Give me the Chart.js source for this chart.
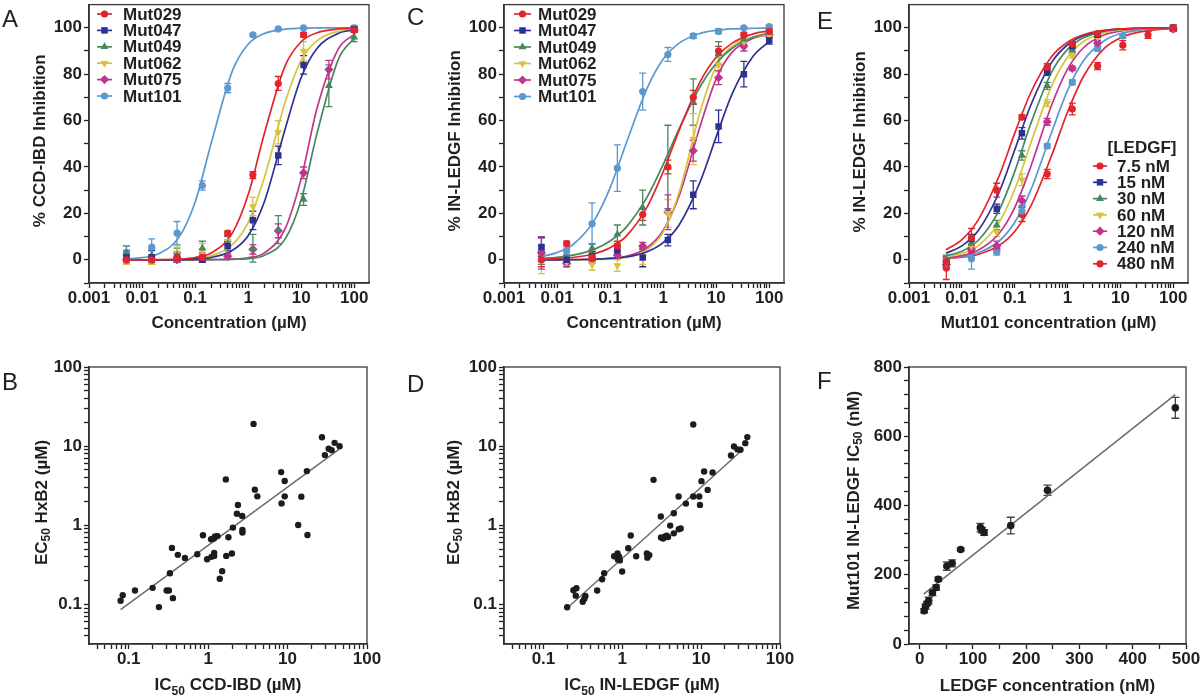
<!DOCTYPE html>
<html lang="en">
<head>
<meta charset="utf-8">
<title>Mut101 and LEDGF inhibition panels</title>
<script src="https://cdn.jsdelivr.net/npm/chart.js@4.4.1/dist/chart.umd.min.js"></script>
<style>
  html, body { margin: 0; padding: 0; background: #fff; }
  #fig { position: relative; width: 1200px; height: 697px; overflow: hidden; }
  .panel { position: absolute; }
  .letter { position: absolute; font: 24px 'Liberation Sans', Arial, sans-serif; line-height: 1; color: #231f20; }
</style>
</head>
<body>
<div id="fig">
  <div class="panel" style="left:0;top:0;width:400px;height:340px"><canvas id="panelA"></canvas></div>
  <div class="panel" style="left:400px;top:0;width:400px;height:340px"><canvas id="panelC"></canvas></div>
  <div class="panel" style="left:800px;top:0;width:400px;height:340px"><canvas id="panelE"></canvas></div>
  <div class="panel" style="left:0;top:340px;width:400px;height:357px"><canvas id="panelB"></canvas></div>
  <div class="panel" style="left:400px;top:340px;width:400px;height:357px"><canvas id="panelD"></canvas></div>
  <div class="panel" style="left:800px;top:340px;width:400px;height:357px"><canvas id="panelF"></canvas></div>
  <div class="letter" style="left:2px;top:7px">A</div>
  <div class="letter" style="left:407px;top:5px">C</div>
  <div class="letter" style="left:817px;top:9px">E</div>
  <div class="letter" style="left:2px;top:370px">B</div>
  <div class="letter" style="left:407px;top:372px">D</div>
  <div class="letter" style="left:817px;top:369px">F</div>
</div>
<script>
const FONT = "'Liberation Sans', Arial, Helvetica, sans-serif";
const INK = '#231f20';
Chart.defaults.font.family = FONT;
Chart.defaults.color = INK;

// ---------- shared axis values ----------
// tested concentrations (uM), 3-fold dilutions
const conc = [0.00508, 0.0152, 0.0457, 0.137, 0.412, 1.23, 3.70, 11.1, 33.3, 100];
const fitX = [0.005, 0.01, 0.02, 0.05, 0.1, 0.2, 0.5, 1, 2, 5, 10, 20, 50, 100];

const decades = [0.001, 0.01, 0.1, 1, 10, 100];
const decadeLabels = ['0.001', '0.01', '0.1', '1', '10', '100'];
const pctTicks = [0, 20, 40, 60, 80, 100];
const pctLabels = ['0', '20', '40', '60', '80', '100'];
const pctMinor = [-10, 10, 30, 50, 70, 90];

// ---------- panels A and C ----------
const mutNames = ['Mut029', 'Mut047', 'Mut049', 'Mut062', 'Mut075', 'Mut101'];
const mutColors = ['#e3242b', '#2e3192', '#46875f', '#d6c53c', '#c2338c', '#5b98d0'];
const mutShapes = ['circle', 'rect', 'triangle', 'triangle', 'rectRot', 'circle'];
const mutRotation = [0, 0, 0, 180, 0, 0];

// A: % CCD-IBD inhibition, rows follow mutNames
const aMean = [
  [0, 0, 1, 1, 11.5, 36.5, 76, 97, null, 99],
  [1, 1, 1, 0, 6, 17, 45, 84, null, 99.5],
  [3, 2, 2, 5, 7, 5, 13, 26, 75, 96],
  [0, 0, 3, 4, 8, 23, 55, 90, null, 100],
  [0, 0, 0, 1, 1.5, 4.5, 12.5, 37.5, 82, 99],
  [3, 5.5, 11.5, 32, 74, 97, 99.5, 100, null, 100]
];
const aSd = [
  [2, 2, 2, 2, 1, 1.5, 3, 1, 0, 1],
  [3, 3, 2, 1, 2, 4, 4, 4, 0, 1],
  [3, 3, 3, 3, 3, 6, 6, 2.5, 9, 2],
  [2, 2, 3, 3, 3, 4, 5, 4, 0, 1],
  [1, 1, 1, 1, 1, 2, 3, 2.5, 4, 1],
  [3, 3.5, 5, 2, 2, 0.5, 0.5, 0.5, 0, 0.5]
];
const aFit = [
  [0, 0, 0.1, 0.3, 1.0, 2.9, 11.4, 28, 54, 83.7, 94, 97.9, 99.5, 99.8],
  [0, 0, 0, 0.1, 0.4, 1.0, 4.0, 10.4, 24.7, 56.5, 78.6, 91.2, 97.6, 99.1],
  [0, 0, 0, 0, 0, 0.05, 0.2, 0.5, 1.9, 9, 25.8, 54.7, 86.3, 95.6],
  [0, 0, 0, 0.2, 0.6, 1.7, 6.4, 16, 35, 68, 86, 94.5, 98.5, 99.5],
  [0, 0, 0, 0, 0, 0.1, 0.25, 0.9, 2.9, 13.5, 35, 65.5, 90.8, 97.2],
  [0.4, 0.9, 2.5, 9.8, 24.8, 50, 81.2, 92.9, 97.5, 99.4, 99.8, 100, 100, 100]
];

// C: % IN-LEDGF inhibition, rows follow mutNames
const cMean = [
  [0, 7, 1, 6, 19.5, 40, 70, 90, 97, 98.5],
  [5.5, 0, 1.5, 4, 1, 8.5, 28, 57.5, 80, 94.5],
  [0, 0, 5, 11, 22.5, 40, 68, 89, 95, 98],
  [0, -1, -2, -2.5, 1, 20, 52, 84, 94, 96.5],
  [3, -1.5, 0, 2, 6, 20.5, 47, 78.5, 92, 97],
  [4, 4, 15.5, 39.5, 72.5, 88.5, 96.5, 98.5, 100, 100.5]
];
const cSd = [
  [3, 1, 1, 2, 2.5, 3, 3, 2, 1, 1],
  [4, 2, 2, 2, 4, 2.5, 6, 7, 5.5, 1.5],
  [2, 2, 2, 4, 7.5, 18, 10, 5, 2, 1],
  [6, 2, 2.5, 2.5, 3, 6, 11, 3, 2, 1],
  [7, 1.5, 1.5, 1.5, 1.5, 7.5, 4.5, 3, 2, 1],
  [2, 1, 9, 10, 8, 3, 1, 1, 0.5, 0.5]
];
const cFit = [
  [0.2, 0.5, 1.0, 2.6, 5.2, 10.1, 22.8, 37.9, 55.8, 76.8, 87.3, 93.4, 97.4, 98.7],
  [0, 0, 0.1, 0.25, 0.6, 1.2, 3.5, 7.4, 15, 33.7, 53, 71.5, 87.8, 94.1],
  [0.6, 1.1, 2.0, 4.5, 8.1, 14, 27.1, 41, 56.4, 74.7, 84.7, 91.2, 95.9, 97.8],
  [0, 0, 0, 0.1, 0.3, 1.0, 4.3, 11.9, 29, 63.9, 83.5, 92, 96, 97],
  [0, 0, 0, 0.2, 0.6, 1.5, 5.2, 12.6, 27.5, 57.7, 78, 89.5, 95.5, 97],
  [1.4, 3.1, 6.6, 16.9, 31, 50, 74, 86.4, 93.4, 97.6, 98.9, 99.5, 99.8, 99.9]
];

// ---------- panel E: Mut101 at several LEDGF concentrations ----------
const ledgfNames = ['7.5 nM', '15 nM', '30 nM', '60 nM', '120 nM', '240 nM', '480 nM'];
const ledgfColors = ['#e3242b', '#2e3192', '#46875f', '#d6c53c', '#c2338c', '#5b98d0', '#e3242b'];
const ledgfShapes = ['circle', 'rect', 'triangle', 'triangle', 'rectRot', 'circle', 'circle'];
const ledgfRotation = [0, 0, 0, 180, 0, 0, 0];
const eMean = [
  [-1, 9.5, 30, 61.5, 83, 93, 97.5, null, null, 100],
  [-1, 9, 22, 54.5, 81, 92, 97, null, null, 100],
  [0, 7, 15, 45, 75, 90.5, 97, null, null, 100],
  [-1, 6, 12, 34.5, 67.5, 88, 96, null, null, 100],
  [-2, 4.5, 6, 25.5, 59.5, 82.5, 93.5, null, null, 99.5],
  [-1, 0.5, 3.5, 21, 49, 76.5, 91, 96.5, null, 100],
  [-3.5, 4, 4.5, 19.5, 37, 65, 83.5, 92.5, 97, 99.5]
];
const eSd = [
  [2, 4, 3, 1, 1.5, 1, 1, 0, 0, 1],
  [2, 2, 2, 2.5, 1.5, 1, 1, 0, 0, 1],
  [2, 2, 2, 2, 1.5, 1, 1, 0, 0, 1],
  [2, 2, 2, 2.5, 1.5, 1, 1, 0, 0, 1],
  [2, 2, 2, 2, 1.5, 1, 1, 0, 0, 1],
  [2, 4.5, 1.5, 2, 1, 1, 1, 1, 0, 1],
  [5, 3, 1.5, 3, 2, 2.5, 1.5, 2, 1.5, 1]
];
const eFit = [
  [4.3, 8.7, 16.9, 35.8, 54.5, 71.9, 87.6, 93.8, 97, 98.9, 99.5, 99.8, 100, 100],
  [2.8, 6, 12.3, 28.8, 47.3, 66.5, 85.1, 92.7, 96.6, 98.8, 99.5, 99.8, 100, 100],
  [1.7, 3.7, 8.2, 21.1, 38, 58.5, 80.9, 90.7, 95.7, 98.5, 99.4, 99.7, 100, 100],
  [1.2, 2.7, 5.9, 15.9, 30.3, 50, 75, 87.3, 94.1, 97.9, 99.1, 99.6, 99.9, 100],
  [0.8, 1.8, 4.0, 11.2, 22.5, 40, 66.7, 82.2, 91.4, 97, 98.6, 99.4, 99.8, 99.9],
  [0.6, 1.3, 2.9, 8, 16.1, 29.9, 55, 73, 85.8, 94.5, 97.5, 98.8, 99.6, 99.8],
  [0.5, 1.1, 2.3, 6.1, 12.2, 23, 45, 63.7, 79, 91.2, 95.7, 97.9, 99.2, 99.6]
];

// ---------- panel B: EC50 HxB2 vs IC50 CCD-IBD (uM) ----------
const bIc50 = [0.079, 0.084, 0.12, 0.20, 0.24, 0.30, 0.32, 0.33, 0.35, 0.36, 0.415, 0.51, 0.73, 0.86, 0.97,
  1.09, 1.1, 1.18, 1.22, 1.31, 1.19, 1.19, 1.40, 1.50, 1.67, 1.69, 1.80, 1.99, 2.05, 2.30, 2.37, 2.68,
  2.70, 2.70, 3.73, 3.87, 4.16, 8.3, 8.4, 9.2, 9.2, 13.6, 14.9, 17.5, 17.8, 27.1, 29.5, 32.9, 35.9, 39.1, 45.2];
const bEc50 = [0.111, 0.131, 0.150, 0.162, 0.0925, 0.150, 0.150, 0.248, 0.518, 0.120, 0.423, 0.387, 0.43, 0.748, 0.372,
  0.667, 0.399, 0.68, 0.72, 0.73, 0.448, 0.41, 0.211, 0.263, 3.8, 0.41, 0.706, 0.44, 0.935, 1.40, 1.80, 1.31,
  0.873, 0.81, 19.1, 2.82, 2.32, 4.70, 1.89, 3.62, 2.32, 1.01, 2.30, 4.84, 0.755, 12.97, 7.7, 9.25, 8.9, 11.0, 10.0];
const bLineX = [0.079, 45.2];
const bLineY = [0.0857, 9.25];

// ---------- panel D: EC50 HxB2 vs IC50 IN-LEDGF (uM) ----------
const dIc50 = [0.20, 0.24, 0.262, 0.257, 0.315, 0.33, 0.34, 0.48, 0.555, 0.589, 0.789, 0.87, 0.88, 0.91, 0.93, 0.995,
  1.19, 1.28, 1.5, 2.05, 2.08, 2.2, 2.49, 3.08, 3.1, 3.3, 3.5, 3.65, 3.8, 4.05, 4.5, 4.5, 5.17, 5.2, 5.5, 6.4,
  7.94, 7.94, 9.46, 9.65, 10.1, 10.9, 12.1, 13.96, 23.9, 26.1, 29.0, 31.5, 36.3, 38.5];
const dEc50 = [0.092, 0.151, 0.160, 0.129, 0.108, 0.118, 0.128, 0.150, 0.208, 0.248, 0.406, 0.44, 0.37, 0.40, 0.36, 0.26,
  0.513, 0.741, 0.406, 0.44, 0.39, 0.42, 3.75, 1.29, 0.70, 0.68, 0.72, 0.74, 0.71, 0.99, 1.42, 0.79, 2.31, 0.89, 0.91, 1.88,
  18.8, 2.31, 2.31, 1.81, 3.61, 4.79, 2.80, 4.65, 7.63, 9.9, 9.1, 9.0, 10.9, 13.0];
const dLineX = [0.196, 33.5];
const dLineY = [0.088, 9.0];

// ---------- panel F: Mut101 IC50 vs LEDGF (nM) ----------
const fLedgf = [8.5, 11, 14, 17, 24, 31, 35, 51, 61, 77, 114, 117, 121, 171, 240, 480];
const fIc50 = [96, 108, 117, 125, 148, 163, 187, 225, 233, 273, 336, 329, 322, 342, 444, 682];
const fSd = [6, 8, 6, 10, 8, 8, 6, 12, 10, 4, 12, 8, 8, 24, 15, 30];
const fLineX = [7.5, 480];
const fLineY = [144, 720];
const fXTicks = [0, 100, 200, 300, 400, 500];
const fXLabels = ['0', '100', '200', '300', '400', '500'];
const fXMinor = [50, 150, 250, 350, 450];
const fYTicks = [0, 200, 400, 600, 800];
const fYLabels = ['0', '200', '400', '600', '800'];
const fYMinor = [40, 80, 120, 160, 240, 280, 320, 360, 440, 480, 520, 560, 640, 680, 720, 760];

const logLabelValues = [0.1, 1, 10, 100];
const logLabels = ['0.1', '1', '10', '100'];

// ---------- helpers ----------
function logTicks(min, max) {
  const out = [];
  for (let e = -3; e <= 2; e++) {
    for (let m = 1; m <= 9; m++) {
      const v = +(m * Math.pow(10, e)).toPrecision(6);
      if (v >= min * 0.999 && v <= max * 1.001) out.push(v);
    }
  }
  return out;
}

function labelFor(v, values, labels) {
  const i = values.findIndex(t => Math.abs(t - v) <= Math.abs(t) * 1e-6 + 1e-9);
  return i < 0 ? '' : labels[i];
}

function axis(type, min, max, tickValues, labelValues, labels, size, pad) {
  const sorted = tickValues.slice().sort((a, b) => a - b);
  return {
    type: type,
    min: min,
    max: max,
    afterBuildTicks: s => { s.ticks = sorted.map(v => ({ value: v })); },
    afterFit: s => {
      if (s.isHorizontal()) s.height = size; else s.width = size;
      s.paddingLeft = s.paddingRight = s.paddingTop = s.paddingBottom = 0;
    },
    grid: { drawOnChartArea: false, drawTicks: true, tickLength: 5, tickWidth: 1.3, tickColor: INK },
    border: { display: true, color: INK, width: 1.6 },
    ticks: {
      autoSkip: false, maxRotation: 0, minRotation: 0, padding: pad, color: INK,
      font: { size: 17, weight: 'bold' },
      callback: v => labelFor(v, labelValues, labels)
    }
  };
}

function baseOptions(top, right, xAxis, yAxis) {
  return {
    responsive: true,
    maintainAspectRatio: false,
    animation: false,
    events: [],
    layout: { padding: { left: 0, top: top, right: right, bottom: 0 } },
    plugins: { legend: { display: false }, tooltip: { enabled: false } },
    scales: { x: xAxis, y: yAxis }
  };
}

function doseSets(names, colors, shapes, rots, means, sds, fits) {
  const sets = [];
  names.forEach((name, k) => {
    sets.push({
      label: name,
      inLegend: true,
      data: conc.map((c, i) => ({ x: c, y: means[k][i] })),
      errors: sds[k],
      backgroundColor: colors[k],
      borderColor: colors[k],
      borderWidth: 0,
      pointStyle: shapes[k],
      pointRotation: rots[k],
      pointRadius: shapes[k] === 'circle' ? 3.6 : 4.6,
      order: 1
    });
    sets.push({
      type: 'line',
      label: name + ' fit',
      data: fitX.map((c, i) => ({ x: c, y: fits[k][i] })),
      borderColor: colors[k],
      borderWidth: 1.7,
      pointRadius: 0,
      fill: false,
      cubicInterpolationMode: 'monotone',
      order: 2
    });
  });
  return sets;
}

function dots(xs, ys, extra) {
  return Object.assign({
    data: xs.map((x, i) => ({ x: x, y: ys[i] })),
    backgroundColor: '#1c1c1c',
    borderWidth: 0,
    pointRadius: 3.2,
    order: 1
  }, extra || {});
}

function trend(xs, ys) {
  return {
    type: 'line',
    data: xs.map((x, i) => ({ x: x, y: ys[i] })),
    borderColor: '#6b6b6b',
    borderWidth: 1.5,
    pointRadius: 0,
    fill: false,
    order: 2
  };
}

// ---------- plugins ----------
const framePlugin = {
  id: 'frame',
  afterDatasetsDraw(chart) {
    const { ctx, chartArea: a } = chart;
    ctx.save();
    ctx.strokeStyle = '#3a3a3a';
    ctx.lineWidth = 1.3;
    ctx.strokeRect(a.left, a.top, a.right - a.left, a.bottom - a.top);
    ctx.restore();
  }
};

const errorBarPlugin = {
  id: 'errorBars',
  beforeDatasetsDraw(chart) {
    const ctx = chart.ctx, ys = chart.scales.y, a = chart.chartArea;
    ctx.save();
    ctx.beginPath();
    ctx.rect(a.left, a.top, a.right - a.left, a.bottom - a.top);
    ctx.clip();
    ctx.lineWidth = 1.3;
    chart.data.datasets.forEach((ds, di) => {
      if (!ds.errors) return;
      const meta = chart.getDatasetMeta(di);
      ctx.strokeStyle = ds.errorColor || ds.borderColor;
      const c = ds.capHalf || 3.5;
      meta.data.forEach((pt, i) => {
        const d = ds.data[i], e = ds.errors[i];
        if (pt.skip || d.y == null || !e) return;
        const top = ys.getPixelForValue(d.y + e), bot = ys.getPixelForValue(d.y - e);
        ctx.beginPath();
        ctx.moveTo(pt.x, top); ctx.lineTo(pt.x, bot);
        ctx.moveTo(pt.x - c, top); ctx.lineTo(pt.x + c, top);
        ctx.moveTo(pt.x - c, bot); ctx.lineTo(pt.x + c, bot);
        ctx.stroke();
      });
    });
    ctx.restore();
  }
};

function drawRich(ctx, segs, cx, cy, angle, baseline) {
  const fontOf = s => 'bold ' + (s.sub ? 12 : 17) + 'px ' + FONT;
  let w = 0;
  segs.forEach(s => { ctx.font = fontOf(s); w += ctx.measureText(s.t).width; });
  ctx.save();
  ctx.translate(cx, cy);
  ctx.rotate(angle);
  ctx.textBaseline = baseline;
  ctx.textAlign = 'left';
  let x = -w / 2;
  segs.forEach(s => {
    ctx.font = fontOf(s);
    ctx.fillText(s.t, x, s.sub ? 4.5 : 0);
    x += ctx.measureText(s.t).width;
  });
  ctx.restore();
}

function titlePlugin(spec) {
  return {
    id: 'axisTitles',
    afterDraw(chart) {
      const ctx = chart.ctx, a = chart.chartArea;
      ctx.save();
      ctx.fillStyle = INK;
      drawRich(ctx, spec.x, (a.left + a.right) / 2, a.bottom + spec.xOff, 0, 'alphabetic');
      drawRich(ctx, spec.y, a.left + spec.yOff, (a.top + a.bottom) / 2 + spec.yShift, -Math.PI / 2, 'middle');
      ctx.restore();
    }
  };
}

function legendPlugin(spec) {
  return {
    id: 'insideLegend',
    afterDraw(chart) {
      const ctx = chart.ctx;
      ctx.save();
      ctx.font = 'bold 17px ' + FONT;
      ctx.textBaseline = 'middle';
      ctx.fillStyle = INK;
      if (spec.title) {
        ctx.textAlign = 'center';
        ctx.fillText(spec.title, spec.titleX, spec.titleY);
      }
      ctx.textAlign = 'left';
      chart.data.datasets.filter(d => d.inLegend).forEach((d, i) => {
        const y = spec.y + i * spec.step;
        ctx.strokeStyle = d.borderColor;
        ctx.lineWidth = 1.7;
        ctx.beginPath(); ctx.moveTo(spec.x1, y); ctx.lineTo(spec.x2, y); ctx.stroke();
        ctx.fillStyle = d.backgroundColor;
        const mx = (spec.x1 + spec.x2) / 2;
        if (Chart.helpers && Chart.helpers.drawPoint) {
          Chart.helpers.drawPoint(ctx, { pointStyle: d.pointStyle, rotation: d.pointRotation, radius: d.pointRadius, borderWidth: 0 }, mx, y);
        } else {
          ctx.beginPath(); ctx.arc(mx, y, 3.6, 0, Math.PI * 2); ctx.fill();
        }
        ctx.fillStyle = INK;
        ctx.fillText(d.label, spec.textX, y + 1);
      });
      ctx.restore();
    }
  };
}

// ---------- axis titles ----------
const concTitle = [{ t: 'Concentration (µM)' }];
const aTitleY = [{ t: '% CCD-IBD Inhibition' }];
const ledgfTitleY = [{ t: '% IN-LEDGF Inhibition' }];
const eTitleX = [{ t: 'Mut101 concentration (µM)' }];
const ec50Title = [{ t: 'EC' }, { t: '50', sub: true }, { t: ' HxB2 (µM)' }];
const bTitleX = [{ t: 'IC' }, { t: '50', sub: true }, { t: ' CCD-IBD (µM)' }];
const dTitleX = [{ t: 'IC' }, { t: '50', sub: true }, { t: ' IN-LEDGF (µM)' }];
const fTitleY = [{ t: 'Mut101 IN-LEDGF IC' }, { t: '50', sub: true }, { t: ' (nM)' }];
const fTitleX = [{ t: 'LEDGF concentration (nM)' }];

// ---------- charts ----------
function doseChart(id, yWidth, right, sets, titles, legend) {
  return new Chart(document.getElementById(id), {
    type: 'scatter',
    data: { datasets: sets },
    options: baseOptions(2, right,
      axis('logarithmic', 0.001, 190, logTicks(0.001, 190), decades, decadeLabels, 57, 0),
      axis('linear', -10, 110, pctMinor.concat(pctTicks), pctTicks, pctLabels, yWidth, 2)),
    plugins: [errorBarPlugin, framePlugin, titlePlugin(titles), legendPlugin(legend)]
  });
}

doseChart('panelA', 89, 31,
  doseSets(mutNames, mutColors, mutShapes, mutRotation, aMean, aSd, aFit),
  { x: concTitle, y: aTitleY, xOff: 45, yOff: -49, yShift: -3 },
  { x1: 97, x2: 112, textX: 123, y: 14, step: 16.4 });

doseChart('panelC', 104, 16,
  doseSets(mutNames, mutColors, mutShapes, mutRotation, cMean, cSd, cFit),
  { x: concTitle, y: ledgfTitleY, xOff: 45, yOff: -49, yShift: -3 },
  { x1: 114, x2: 131, textX: 138, y: 14, step: 16.5 });

doseChart('panelE', 109, 12,
  doseSets(ledgfNames, ledgfColors, ledgfShapes, ledgfRotation, eMean, eSd, eFit),
  { x: eTitleX, y: ledgfTitleY, xOff: 45, yOff: -49, yShift: -2 },
  { x1: 293, x2: 307, textX: 317, y: 166, step: 16.3, title: '[LEDGF]', titleX: 342, titleY: 148 });

function corrChart(id, yWidth, right, sets, titles) {
  const lo = 0.0316, hi = 100;
  return new Chart(document.getElementById(id), {
    type: 'scatter',
    data: { datasets: sets },
    options: baseOptions(27, right,
      axis('logarithmic', lo, hi, logTicks(lo, hi), logLabelValues, logLabels, 53, 0),
      axis('logarithmic', lo, hi, logTicks(lo, hi), logLabelValues, logLabels, yWidth, 2)),
    plugins: [framePlugin, titlePlugin(titles)]
  });
}

corrChart('panelB', 89, 33, [dots(bIc50, bEc50), trend(bLineX, bLineY)],
  { x: bTitleX, y: ec50Title, xOff: 46, yOff: -47, yShift: -3 });

corrChart('panelD', 104, 20, [dots(dIc50, dEc50), trend(dLineX, dLineY)],
  { x: dTitleX, y: ec50Title, xOff: 46, yOff: -50, yShift: -3 });

new Chart(document.getElementById('panelF'), {
  type: 'scatter',
  data: {
    datasets: [
      dots(fLedgf, fIc50, { errors: fSd, errorColor: '#444', capHalf: 4, borderColor: '#444', pointRadius: 3.8 }),
      trend(fLineX, fLineY)
    ]
  },
  options: baseOptions(27, 14,
    axis('linear', -20, 500, fXMinor.concat(fXTicks), fXTicks, fXLabels, 53, 0),
    axis('linear', 0, 800, fYMinor.concat(fYTicks), fYTicks, fYLabels, 109, 2)),
  plugins: [errorBarPlugin, framePlugin, titlePlugin({ x: fTitleX, y: fTitleY, xOff: 47, yOff: -55, yShift: -5 })]
});
</script>
</body>
</html>
